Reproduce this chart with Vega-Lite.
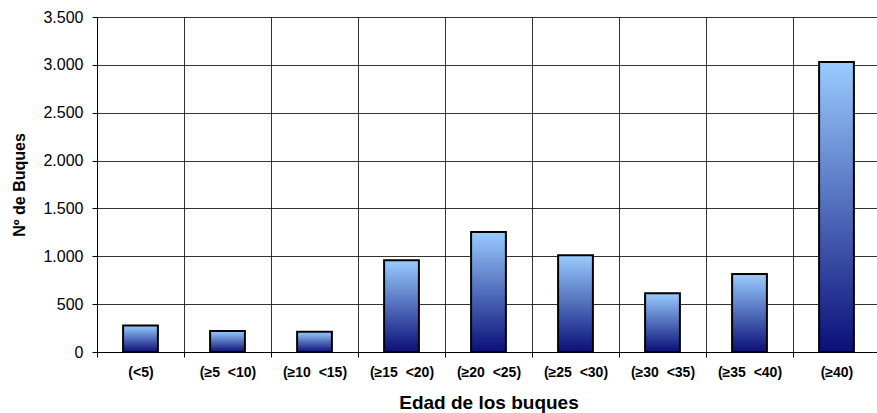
{
  "$schema": "https://vega.github.io/schema/vega-lite/v6.json",
  "autosize": "none",
  "padding": {"left": 97, "top": 17, "right": 0, "bottom": 61},
  "width": 783,
  "height": 335,
  "background": "white",
  "data": {
    "values": [
      {"edad": "(<5)", "buques": 277},
      {"edad": "(≥5\u00a0 <10)", "buques": 219},
      {"edad": "(≥10\u00a0 <15)", "buques": 211},
      {"edad": "(≥15\u00a0 <20)", "buques": 958},
      {"edad": "(≥20\u00a0 <25)", "buques": 1255},
      {"edad": "(≥25\u00a0 <30)", "buques": 1010},
      {"edad": "(≥30\u00a0 <35)", "buques": 615},
      {"edad": "(≥35\u00a0 <40)", "buques": 815},
      {"edad": "(≥40)", "buques": 3030}
    ]
  },
  "mark": {
    "type": "bar",
    "width": {"band": 0.4},
    "stroke": "#000000",
    "strokeWidth": 2,
    "color": {
      "gradient": "linear",
      "x1": 0, "y1": 0, "x2": 0, "y2": 1,
      "stops": [
        {"offset": 0, "color": "#99ccff"},
        {"offset": 1, "color": "#0a0f78"}
      ]
    }
  },
  "encoding": {
    "x": {
      "field": "edad",
      "type": "nominal",
      "sort": null,
      "scale": {"paddingInner": 0, "paddingOuter": 0},
      "axis": {
        "title": "Edad de los buques",
        "titleFont": "Liberation Sans",
        "titleFontSize": 19,
        "titleFontWeight": "bold",
        "titleColor": "#000000",
        "titlePadding": 14,
        "labelAngle": 0,
        "labelFont": "Liberation Sans",
        "labelFontSize": 14,
        "labelFontWeight": "bold",
        "labelColor": "#000000",
        "labelPadding": 8,
        "bandPosition": 0,
        "grid": true,
        "gridColor": "#000000",
        "gridOpacity": 0.8,
        "ticks": true,
        "tickSize": 5,
        "tickColor": "#000000",
        "tickBand": "extent",
        "domainColor": "#000000",
        "labelBound": false
      }
    },
    "y": {
      "field": "buques",
      "type": "quantitative",
      "scale": {"domain": [0, 3500], "nice": false},
      "axis": {
        "title": "Nº de Buques",
        "titleFont": "Liberation Sans",
        "titleFontSize": 16,
        "titleFontWeight": "bold",
        "titleColor": "#000000",
        "titlePadding": 15,
        "values": [0, 500, 1000, 1500, 2000, 2500, 3000, 3500],
        "labelExpr": "replace(format(datum.value, ','), ',', '.')",
        "labelFont": "Liberation Sans",
        "labelFontSize": 16,
        "labelColor": "#000000",
        "labelPadding": 9,
        "tickSize": 5,
        "tickColor": "#000000",
        "grid": true,
        "gridColor": "#000000",
        "gridOpacity": 0.8,
        "domainColor": "#000000"
      }
    }
  },
  "config": {
    "view": {"stroke": null}
  }
}
